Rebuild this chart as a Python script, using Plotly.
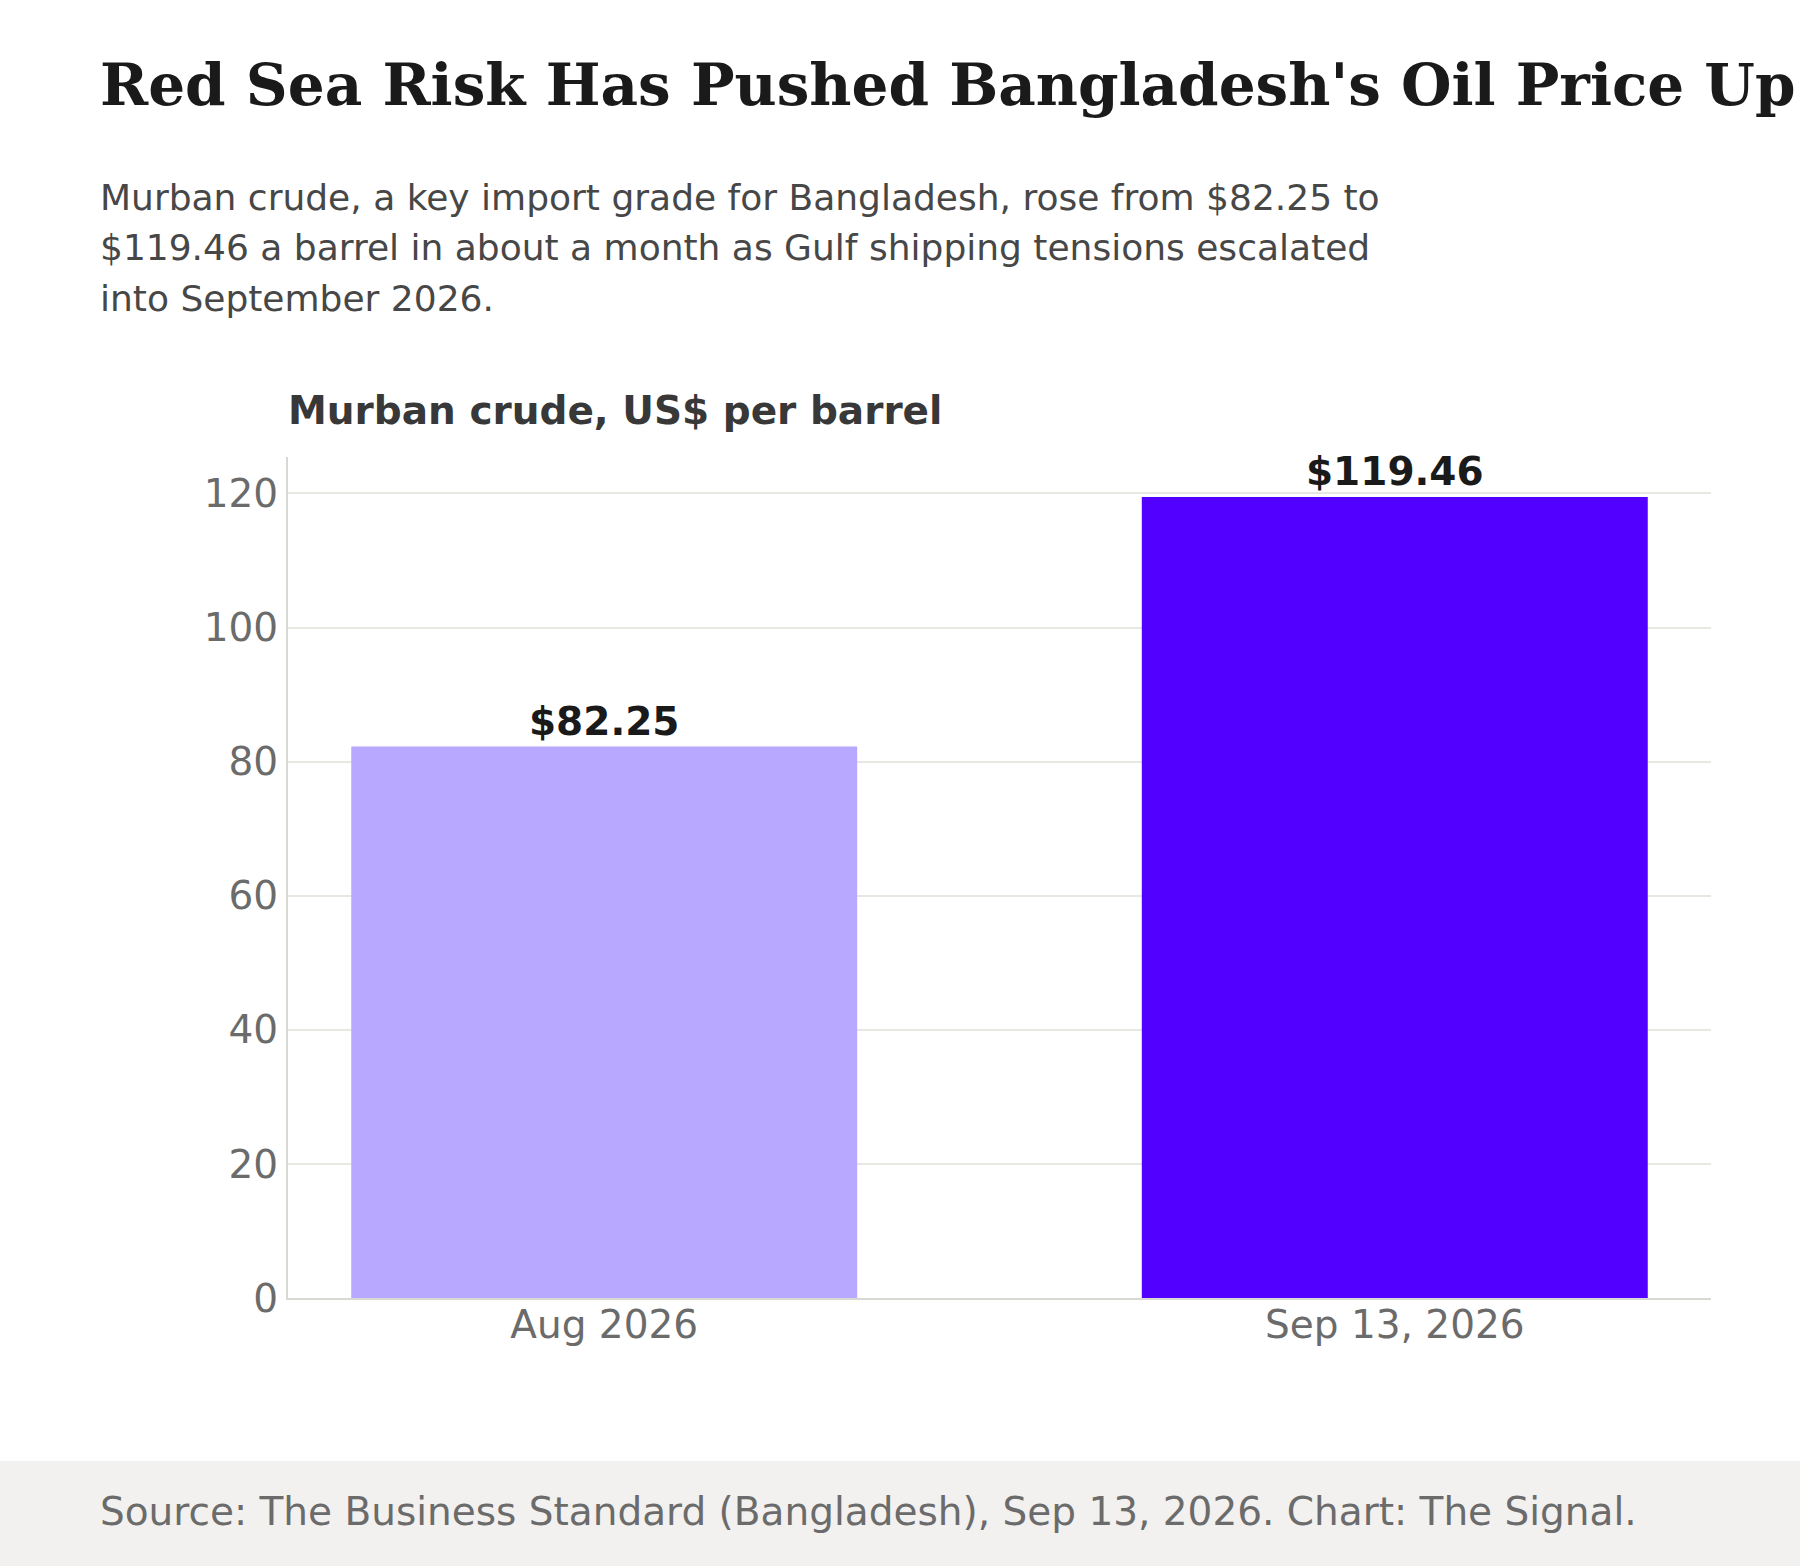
import plotly.graph_objects as go

# Murban crude, US$ per barrel
dates = ["Aug 2026", "Sep 13, 2026"]
prices = [82.25, 119.46]
bar_colors = ["#b8a8ff", "#5200ff"]

title_text = "Red Sea Risk Has Pushed Bangladesh's Oil Price Up"
subtitle_lines = [
    "Murban crude, a key import grade for Bangladesh, rose from $82.25 to",
    "$119.46 a barrel in about a month as Gulf shipping tensions escalated",
    "into September 2026.",
]
axis_label = "Murban crude, US$ per barrel"
source_text = "Source: The Business Standard (Bangladesh), Sep 13, 2026. Chart: The Signal."

W, H = 1800, 1566
M_L, M_R, M_T, M_B = 288, 89, 457, 268
PLOT_W = W - M_L - M_R
PLOT_H = H - M_T - M_B
SANS = "DejaVu Sans"


def px_x(x):
    return (x - M_L) / PLOT_W


def px_y(y):
    return (H - M_B - y) / PLOT_H


fig = go.Figure()
fig.add_trace(go.Bar(
    x=dates,
    y=prices,
    width=0.64,
    marker=dict(color=bar_colors, line=dict(width=0)),
    texttemplate="<b>$%{y:.2f}</b>",
    textposition="outside",
    textfont=dict(family=SANS, size=39, color="#1a1a1a"),
    cliponaxis=False,
    hoverinfo="skip",
))

annotations = [
    dict(text=f"<b>{title_text}</b>", x=px_x(98), y=px_y(85),
         font=dict(family="DejaVu Serif", size=58, color="#1a1a1a")),
    dict(text=f"<b>{axis_label}</b>", x=px_x(286), y=px_y(410),
         font=dict(family=SANS, size=39, color="#383838")),
    dict(text=source_text, x=px_x(98), y=px_y(1511),
         font=dict(family=SANS, size=39, color="#6b6b6b")),
]
for i, line in enumerate(subtitle_lines):
    annotations.append(dict(text=line, x=px_x(98), y=px_y(198 + 50 * i),
                            font=dict(family=SANS, size=36, color="#474747")))
for a in annotations:
    a.update(xref="paper", yref="paper", xanchor="left", yanchor="middle",
             showarrow=False, align="left")

# grey footer band, in pixels below the plot's bottom edge
band_top = 1461 - (H - M_B)

fig.update_layout(
    width=W,
    height=H,
    margin=dict(l=M_L, r=M_R, t=M_T, b=M_B, pad=0),
    paper_bgcolor="white",
    plot_bgcolor="white",
    showlegend=False,
    annotations=annotations,
    shapes=[dict(type="rect", xref="paper", yref="paper", ysizemode="pixel",
                 yanchor=0, x0=-1, x1=2, y0=-band_top - 400, y1=-band_top,
                 fillcolor="#f2f1ef", line=dict(width=0), layer="below")],
)
fig.update_xaxes(
    type="category",
    range=[-0.4, 1.4],
    showline=True,
    linecolor="#d9d9d4",
    linewidth=2,
    showgrid=False,
    ticks="",
    ticklabelstandoff=-9,
    tickfont=dict(family=SANS, size=39, color="#6b6b6b"),
    fixedrange=True,
)
fig.update_yaxes(
    range=[0, max(prices) * 1.05],
    dtick=20,
    showline=True,
    linecolor="#d9d9d4",
    linewidth=2,
    showgrid=True,
    gridcolor="#e8e8e3",
    gridwidth=2,
    zeroline=False,
    ticks="",
    tickfont=dict(family=SANS, size=39, color="#6b6b6b"),
    fixedrange=True,
)

fig.write_html("out.html", config={"displayModeBar": False},
               post_script="document.body.style.margin = '0';")
